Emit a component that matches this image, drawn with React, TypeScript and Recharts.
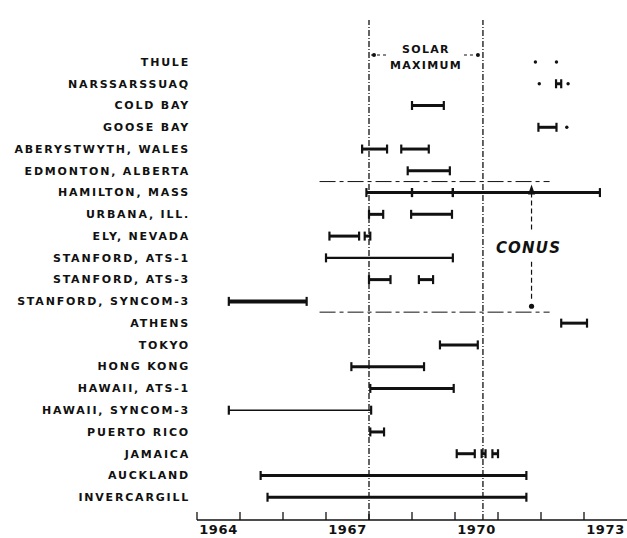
import React from "react";
import { ComposedChart, Bar, XAxis, YAxis, ReferenceLine, ReferenceArea } from "recharts";

type Span = [number, number] | null;

const stations = [
  "THULE",
  "NARSSARSSUAQ",
  "COLD BAY",
  "GOOSE BAY",
  "ABERYSTWYTH, WALES",
  "EDMONTON, ALBERTA",
  "HAMILTON, MASS",
  "URBANA, ILL.",
  "ELY, NEVADA",
  "STANFORD, ATS-1",
  "STANFORD, ATS-3",
  "STANFORD, SYNCOM-3",
  "ATHENS",
  "TOKYO",
  "HONG KONG",
  "HAWAII, ATS-1",
  "HAWAII, SYNCOM-3",
  "PUERTO RICO",
  "JAMAICA",
  "AUCKLAND",
  "INVERCARGILL",
];

// observing periods (decimal years), up to three per station
const firstSpan: Span[] = [
  null,
  [1972.35, 1972.47],
  [1969.0, 1969.74],
  [1971.94, 1972.36],
  [1967.84, 1968.42],
  [1968.9, 1969.88],
  [1967.94, 1969.0],
  [1968.0, 1968.33],
  [1967.08, 1967.77],
  [1967.0, 1969.95],
  [1968.0, 1968.5],
  [1964.74, 1966.55],
  [1972.47, 1973.07],
  [1969.65, 1970.53],
  [1967.59, 1969.28],
  [1968.03, 1969.97],
  [1964.74, 1968.05],
  [1968.03, 1968.35],
  [1970.04, 1970.46],
  [1965.48, 1971.66],
  [1965.64, 1971.66],
];

const secondSpan: Span[] = [
  null, null, null, null,
  [1968.75, 1969.39],
  null,
  [1969.0, 1969.95],
  [1968.98, 1969.93],
  [1967.9, 1968.03],
  null,
  [1969.16, 1969.49],
  null, null, null, null, null, null, null,
  [1970.62, 1970.71],
  null, null,
];

const thirdSpan: Span[] = [
  null, null, null, null, null, null,
  [1969.95, 1973.37],
  null, null, null, null, null, null, null, null, null, null, null,
  [1970.87, 1971.0],
  null, null,
];

// isolated single observations
const firstDot: (number | null)[] = [
  1971.87, 1971.96, null, 1972.6, null, null, null, null, null, null, null,
  null, null, null, null, null, null, null, null, null, null,
];
const secondDot: (number | null)[] = [
  1972.36, 1972.63, null, null, null, null, null, null, null, null, null,
  null, null, null, null, null, null, null, null, null, null,
];

const yearTicks = [1964, 1965, 1966, 1967, 1968, 1969, 1970, 1971, 1972, 1973];
const yearLabels = [1964.5, 1967.5, 1970.5, 1973.5];
const solarMax: [number, number] = [1968.0, 1970.65];
const conusYears: [number, number] = [1966.85, 1972.2];
const conusPointer = 1971.78;

const INK = "#111";

const lineWeight: Record<string, number> = {
  "STANFORD, SYNCOM-3": 4,
  "HAWAII, SYNCOM-3": 1.4,
  "STANFORD, ATS-1": 2.3,
};

const dot = (v: number | null): Span => (v == null ? null : [v - 0.03, v + 0.03]);

const data = stations.map((name, i) => ({
  name,
  s1: firstSpan[i],
  s2: secondSpan[i],
  s3: thirdSpan[i],
  d1: dot(firstDot[i]),
  d2: dot(secondDot[i]),
}));

const spanShape = (key: string) => (p: any) => {
  const seg = p.payload?.[key];
  if (!seg) return <g />;
  const cy = p.y + p.height / 2;
  const left = p.x;
  const right = p.x + p.width;
  const w = lineWeight[p.payload.name] ?? 3;
  return (
    <g stroke={INK}>
      <line x1={left} x2={right} y1={cy} y2={cy} strokeWidth={w} />
      <line x1={left} x2={left} y1={cy - 4.5} y2={cy + 4.5} strokeWidth={2.2} />
      <line x1={right} x2={right} y1={cy - 4.5} y2={cy + 4.5} strokeWidth={2.2} />
    </g>
  );
};

const dotShape = (key: string) => (p: any) => {
  if (!p.payload?.[key]) return <g />;
  return <circle cx={p.x + p.width / 2} cy={p.y + p.height / 2} r={1.7} fill={INK} />;
};

function SolarLabel(props: any) {
  const { x, y, width } = props.viewBox;
  const cx = x + width / 2;
  const ly = y + 4;
  const txt = { textAnchor: "middle" as const, fontSize: 11, fontWeight: 700, letterSpacing: 1.3, fill: INK };
  return (
    <g>
      <text x={cx} y={y + 1.5} {...txt}>SOLAR</text>
      <text x={cx} y={y + 18} {...txt}>MAXIMUM</text>
      <g stroke={INK} strokeWidth={1.2} strokeDasharray="3 3">
        <line x1={x + 2} x2={cx - 38} y1={ly} y2={ly} />
        <line x1={cx + 38} x2={x + width - 2} y1={ly} y2={ly} />
      </g>
      <circle cx={x + 5} cy={ly} r={2} fill={INK} />
      <circle cx={x + width - 5} cy={ly} r={2} fill={INK} />
    </g>
  );
}

function ConusBox(p: any) {
  const { x, y, width, height } = p;
  return (
    <g stroke={INK} strokeWidth={1} strokeDasharray="16 4 4 4" fill="none">
      <line x1={x} x2={x + width} y1={y} y2={y} />
      <line x1={x} x2={x + width} y1={y + height} y2={y + height} />
    </g>
  );
}

function ConusPointer(p: any) {
  const { x1, y1, y2 } = p;
  const mid = (y1 + y2) / 2;
  return (
    <g>
      <g stroke={INK} strokeWidth={1.2} strokeDasharray="5 3">
        <line x1={x1} x2={x1} y1={y1} y2={mid - 15} />
        <line x1={x1} x2={x1} y1={mid + 15} y2={y2} />
      </g>
      <path d={`M${x1 - 3.5},${y1 + 2} L${x1},${y1 - 8} L${x1 + 3.5},${y1 + 2} Z`} fill={INK} />
      <circle cx={x1} cy={y2 + 5} r={2.6} fill={INK} />
      <text
        x={x1 - 3}
        y={mid + 6}
        textAnchor="middle"
        fontSize={15}
        fontWeight={700}
        fontStyle="italic"
        letterSpacing={1.2}
        fill={INK}
      >
        CONUS
      </text>
    </g>
  );
}

export default function App() {
  return (
    <div
      style={{
        position: "absolute",
        left: 0,
        top: 0,
        width: 627,
        height: 538,
        background: "#fff",
        fontFamily: '"DejaVu Sans", sans-serif',
      }}
    >
      <ComposedChart
        width={627}
        height={538}
        data={data}
        layout="vertical"
        barGap={-10}
        margin={{ top: 20, right: 0, bottom: 0, left: 0 }}
      >
        <XAxis
          type="number"
          domain={[1964, 1974]}
          allowDataOverflow
          ticks={yearTicks}
          tickFormatter={() => ""}
          tickSize={-8}
          height={1}
          axisLine={{ stroke: INK, strokeWidth: 1.5 }}
          tickLine={{ stroke: INK, strokeWidth: 1.3 }}
        />
        <XAxis
          xAxisId="lbl"
          type="number"
          domain={[1964, 1974]}
          allowDataOverflow
          ticks={yearLabels}
          tickFormatter={(v: number) => String(Math.floor(v))}
          axisLine={false}
          tickLine={false}
          tickSize={0}
          tickMargin={4}
          height={17}
          tick={{ fill: INK, fontSize: 13, fontWeight: 700, letterSpacing: 0.6 }}
        />
        <YAxis
          type="category"
          dataKey="name"
          width={197}
          interval={0}
          axisLine={false}
          tickLine={false}
          tickSize={0}
          tickMargin={7}
          padding={{ top: 31, bottom: 12 }}
          tick={{ fill: INK, fontSize: 11, fontWeight: 700, letterSpacing: 1.8 }}
        />
        <ReferenceArea
          x1={solarMax[0]}
          x2={solarMax[1]}
          fill="none"
          fillOpacity={0}
          stroke="none"
          label={(props: any) => <SolarLabel {...props} />}
        />
        <ReferenceLine x={solarMax[0]} stroke={INK} strokeWidth={1.3} strokeDasharray="6 2 1 2" />
        <ReferenceLine x={solarMax[1]} stroke={INK} strokeWidth={1.3} strokeDasharray="6 2 1 2" />
        <ReferenceArea
          x1={conusYears[0]}
          x2={conusYears[1]}
          y1="HAMILTON, MASS"
          y2="STANFORD, SYNCOM-3"
          shape={(p: any) => <ConusBox {...p} />}
        />
        <Bar dataKey="s1" barSize={10} isAnimationActive={false} shape={spanShape("s1")} />
        <Bar dataKey="s2" barSize={10} isAnimationActive={false} shape={spanShape("s2")} />
        <Bar dataKey="s3" barSize={10} isAnimationActive={false} shape={spanShape("s3")} />
        <Bar dataKey="d1" barSize={10} isAnimationActive={false} shape={dotShape("d1")} />
        <Bar dataKey="d2" barSize={10} isAnimationActive={false} shape={dotShape("d2")} />
        <ReferenceLine
          segment={[
            { x: conusPointer, y: "HAMILTON, MASS" },
            { x: conusPointer, y: "STANFORD, SYNCOM-3" },
          ]}
          shape={(p: any) => <ConusPointer {...p} />}
        />
      </ComposedChart>
    </div>
  );
}
